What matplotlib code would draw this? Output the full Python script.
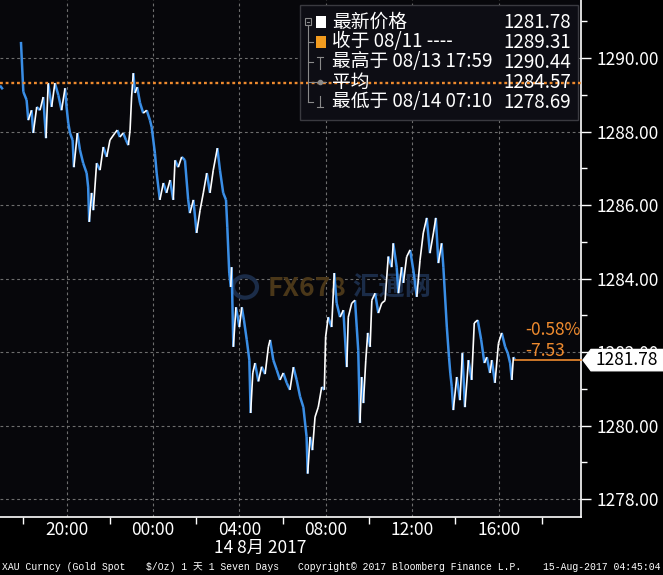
import numpy as np
import matplotlib
matplotlib.use("Agg")
import matplotlib.pyplot as plt
from matplotlib.collections import LineCollection
from matplotlib.patches import Rectangle, Polygon

plt.rcParams['font.family'] = ['Noto Sans CJK SC', 'DejaVu Sans']

# hours relative to 14-Aug-2017 00:00, gold spot price (nan = trading gap)
hours = [-7.08, -6.95, np.nan,
         -6.11, -6.00, -5.85, -5.77, -5.62, -5.54, -5.38, -5.23, -5.08, -4.95,
         -4.85, -4.69, -4.54, -4.38, -4.23, -4.07, -4.00, -3.92, -3.84, -3.72,
         -3.66, -3.50, -3.38, -3.23, -3.07, -3.00, -2.95, -2.84, -2.76, -2.61,
         -2.45, -2.30, -2.14, -1.99, -1.76, -1.65, -1.53, -1.38, -1.25, -1.14,
         -1.06, -0.99, -0.91, -0.83, -0.73, -0.60, -0.45, -0.29, -0.14, -0.06,
         0.09, 0.17, 0.32, 0.48, 0.63, 0.79, 0.94, 1.02, 1.17, 1.33,
         1.48, 1.63, 1.71, 1.87, 2.02, 2.18, 2.33, 2.49, 2.64, 2.79,
         2.98, 3.10, 3.25, 3.38, 3.44, 3.53, 3.60, 3.64, 3.72, 3.84,
         4.00, 4.11, 4.21, 4.34, 4.46, 4.52, 4.62, 4.72, 4.88, 5.03,
         5.19, 5.34, 5.42, 5.57, 5.73, 5.88, 6.03, 6.19, 6.34, 6.50,
         6.65, 6.81, 6.96, 7.11, 7.16, 7.27, 7.38, 7.50, 7.65, 7.81,
         7.93, 7.99, 8.11, 8.27, 8.39, 8.50, 8.66, 8.81, 8.97, 9.04,
         9.20, 9.35, 9.43, 9.50, 9.58, 9.66, 9.74, 9.85, 9.94, 10.05,
         10.13, 10.28, 10.43, 10.59, 10.74, 10.89, 11.05, 11.12, 11.28, 11.36,
         11.51, 11.59, 11.74, 11.90, 12.05, 12.21, 12.36, 12.51, 12.67, 12.82,
         12.98, 13.09, 13.21, 13.36, 13.44, 13.60, 13.70, 13.76, 13.83, 13.90,
         14.06, 14.21, 14.32, 14.44, 14.60, 14.75, 14.87, 15.03, 15.19, 15.34,
         15.45, 15.60, 15.68, 15.83, 15.99, 16.14, 16.30, 16.42, 16.53, 16.61,
         16.68, 16.76]
price = [1289.25, 1289.15, np.nan,
         1290.44, 1289.08, 1288.86, 1288.31, 1288.58, 1287.96, 1288.67, 1288.58, 1288.94, 1287.82,
         1289.32, 1288.67, 1289.32, 1288.99, 1288.58, 1289.18, 1288.67, 1288.23, 1287.96, 1287.77,
         1287.03, 1287.96, 1287.50, 1287.14, 1286.87, 1286.49, 1285.54, 1286.33, 1285.86, 1287.14,
         1286.95, 1287.58, 1287.31, 1287.77, 1287.96, 1288.04, 1287.85, 1287.96, 1287.77, 1287.63,
         1288.04, 1288.94, 1289.59, 1289.05, 1289.21, 1288.78, 1288.50, 1288.58, 1288.31, 1288.12,
         1287.41, 1286.87, 1286.14, 1286.60, 1286.33, 1286.68, 1286.14, 1287.22, 1287.03, 1287.31,
         1287.22, 1286.14, 1285.78, 1286.14, 1285.24, 1285.86, 1286.33, 1286.87, 1286.33, 1286.95,
         1287.55, 1286.95, 1286.33, 1286.14, 1285.40, 1284.15, 1283.77, 1284.31, 1282.14, 1283.22,
         1282.68, 1283.22, 1282.87, 1282.33, 1281.78, 1280.34, 1281.43, 1281.70, 1281.20, 1281.60,
         1281.40, 1282.14, 1282.33, 1281.78, 1281.51, 1281.24, 1281.43, 1281.16, 1280.97, 1281.59,
         1281.24, 1280.78, 1280.50, 1279.69, 1278.69, 1279.69, 1279.33, 1280.23, 1280.50, 1281.05,
         1280.97, 1282.41, 1282.95, 1282.68, 1284.15, 1283.33, 1282.95, 1283.14, 1281.59, 1282.95,
         1283.33, 1283.41, 1282.68, 1282.05, 1280.07, 1281.32, 1280.61, 1281.78, 1282.52, 1282.14,
         1283.41, 1283.60, 1283.06, 1283.33, 1283.40, 1284.60, 1284.31, 1284.96, 1284.31, 1283.60,
         1284.31, 1283.88, 1284.59, 1284.78, 1284.23, 1283.50, 1284.50, 1285.24, 1285.65, 1284.69,
         1285.24, 1285.65, 1284.42, 1284.96, 1284.31, 1282.68, 1281.86, 1281.43, 1281.05, 1280.42,
         1281.32, 1280.69, 1281.97, 1280.50, 1281.78, 1281.24, 1282.79, 1282.87, 1282.33, 1281.70,
         1281.86, 1281.43, 1281.78, 1281.16, 1282.24, 1282.52, 1282.14, 1281.97, 1281.70, 1281.24,
         1281.86, 1281.78]

last_price = 1281.78
prev_close = 1289.31
change = -7.53
change_pct = -0.58

legend_labels = ["最新价格", "收于 08/11 ----", "最高于 08/13 17:59", "平均", "最低于 08/14 07:10"]
legend_values = ["1281.78", "1289.31", "1290.44", "1284.57", "1278.69"]

xtick_hours = [-4, 0, 4, 8, 12, 16]
xtick_labels = ["20:00", "00:00", "04:00", "08:00", "12:00", "16:00"]
xminor_hours = [-6, -2, 2, 6, 10, 14, 18]
ytick_vals = [1278, 1280, 1282, 1284, 1286, 1288, 1290]

W, H = 663, 575
AX_W, AX_H = 581, 517
ORANGE = '#ee8a2e'

fig = plt.figure(figsize=(W / 100, H / 100), dpi=100, facecolor='black')
ax = fig.add_axes([0, 1 - AX_H / H, AX_W / W, AX_H / H])
ax.set_facecolor('#07070b')


def axx(px):
    return px / AX_W


def axy(py):
    return 1 - py / AX_H


# price line: rising segments white, falling segments blue
t = np.array(hours, dtype=float)
p = np.array(price, dtype=float)
pts = np.column_stack([t, p])
segs = np.stack([pts[:-1], pts[1:]], axis=1)
ok = ~np.isnan(segs).any(axis=(1, 2))
up = np.diff(p) >= 0
down_segs = segs[ok & ~up]
up_segs = segs[ok & up]
ax.add_collection(LineCollection(down_segs, colors='#3a8ee6', linewidths=1.8, zorder=4))
ax.add_collection(LineCollection(up_segs, colors='white', linewidths=1.2, zorder=5))

ax.set_xlim(-7.08, 19.81)
ax.set_ylim(1277.51, 1291.58)

# axes styling
for s in ['left', 'top']:
    ax.spines[s].set_visible(False)
for s in ['right', 'bottom']:
    ax.spines[s].set_color('white')
    ax.spines[s].set_linewidth(1.2)

ax.yaxis.tick_right()
ax.set_yticks(ytick_vals)
ax.set_yticklabels([f"{v:.2f}" for v in ytick_vals])
ax.set_yticks([v + 1 for v in ytick_vals[:-1]] + [1291], minor=True)
ax.set_xticks(xtick_hours)
ax.set_xticklabels(xtick_labels)
ax.set_xticks(xminor_hours, minor=True)
ax.tick_params(axis='y', which='major', colors='white', length=7, width=1, labelsize=12.5, pad=4)
ax.tick_params(axis='y', which='minor', colors='white', length=4, width=1)
ax.tick_params(axis='x', which='major', colors='white', length=0, labelsize=12.5, pad=3)
ax.tick_params(axis='x', which='minor', colors='white', length=5, width=1)
ax.grid(True, which='major', color='#6e6e6e', ls=(0, (2.5, 2.5)), lw=0.8, zorder=1)

# previous close (dotted) and last price line
ax.axhline(prev_close, color=ORANGE, ls=(0, (1.2, 1.2)), lw=1.7, zorder=7)
ax.plot([t[-1], 19.81], [last_price, last_price], color=ORANGE, lw=1.2, zorder=6, clip_on=False)
ax.text(17.22, last_price + 0.82, f"{change_pct:.2f}%", color=ORANGE, fontsize=12.5,
        ha='left', va='center', zorder=8)
ax.text(17.22, last_price + 0.25, f"{change:.2f}", color=ORANGE, fontsize=12.5,
        ha='left', va='center', zorder=8)

# last price tag on right axis
ytr = ax.get_yaxis_transform()
hh = 0.29
tag = Polygon([[axx(583), last_price], [axx(591), last_price + hh], [axx(663), last_price + hh],
               [axx(663), last_price - hh], [axx(591), last_price - hh]],
              closed=True, facecolor='white', edgecolor='white', transform=ytr,
              clip_on=False, zorder=10)
ax.add_patch(tag)
ax.text(axx(627), last_price, f"{last_price:.2f}", color='black', fontsize=12.5,
        ha='center', va='center', transform=ytr, clip_on=False, zorder=11)

# watermark
ax.text(axx(268), axy(288), "FX678", color='#4a3719', fontsize=19, fontweight='bold',
        ha='left', va='center', transform=ax.transAxes, zorder=2)
ax.text(axx(352), axy(288), "汇通网", color='#1b2c48', fontsize=19, fontweight='bold',
        ha='left', va='center', transform=ax.transAxes, zorder=2)
ax.add_patch(plt.Circle((axx(245), axy(287)), 12 / AX_W, transform=ax.transAxes,
                        facecolor='none', edgecolor='#1b2c48', lw=3, zorder=2))

# legend box
ta = ax.transAxes
ax.add_patch(Rectangle((axx(300), axy(120)), axx(578) - axx(300), axy(5) - axy(120),
                       facecolor='#0d0d14', edgecolor='#3a3a40', lw=1, transform=ta, zorder=6))
grey = '#8a8a8a'
row_y = [22, 42, 62, 82, 102]
# tree lines
ax.add_patch(Rectangle((axx(305), axy(25)), axx(311) - axx(305), axy(18) - axy(25),
                       facecolor='none', edgecolor=grey, lw=0.8, transform=ta, zorder=7))
ax.plot([axx(306.5), axx(309.5)], [axy(21.5), axy(21.5)], color=grey, lw=0.8, transform=ta, zorder=7)
ax.plot([axx(308), axx(308)], [axy(25), axy(102)], color=grey, lw=0.8, transform=ta, zorder=7)
for ry in row_y[1:]:
    ax.plot([axx(308), axx(313)], [axy(ry), axy(ry)], color=grey, lw=0.8, transform=ta, zorder=7)
ax.plot([axx(320), axx(320)], [axy(57), axy(69)], color=grey, lw=0.8, transform=ta, zorder=7)
ax.plot([axx(317), axx(323)], [axy(57), axy(57)], color=grey, lw=0.8, transform=ta, zorder=7)
ax.plot([axx(313), axx(326)], [axy(82), axy(82)], color=grey, lw=0.8, transform=ta, zorder=7)
ax.plot([axx(320)], [axy(82)], marker='o', ms=3, color=grey, transform=ta, zorder=7)
ax.plot([axx(320), axx(320)], [axy(96), axy(107)], color=grey, lw=0.8, transform=ta, zorder=7)
ax.plot([axx(317), axx(323)], [axy(107), axy(107)], color=grey, lw=0.8, transform=ta, zorder=7)
# colour squares
for ry, c in zip(row_y[:2], ['white', '#f29b1f']):
    ax.add_patch(Rectangle((axx(316), axy(ry + 5.5)), axx(326) - axx(316), axy(ry - 5.5) - axy(ry + 5.5),
                           facecolor=c, edgecolor='none', transform=ta, zorder=8))
for ry, lab, val in zip(row_y, legend_labels, legend_values):
    ax.text(axx(332), axy(ry), lab, color='white', fontsize=13.5, ha='left', va='center',
            transform=ta, zorder=9)
    ax.text(axx(571), axy(ry), val, color='white', fontsize=13.5, ha='right', va='center',
            transform=ta, zorder=9)

# date label and footer
fig.text(260 / W, 1 - 548 / H, "14 8月 2017", color='white', fontsize=12.5, ha='center', va='center')
mono = ['Liberation Mono', 'Noto Sans CJK SC']
footer = [(2, "XAU Curncy (Gold Spot"), (146, "$/Oz) 1 天 1 Seven Days"),
          (298, "Copyright© 2017 Bloomberg Finance L.P."), (543, "15-Aug-2017 04:45:04")]
for fx, txt in footer:
    fig.text(fx / W, 1 - 567 / H, txt, color='white', fontsize=7.0, family=mono,
             ha='left', va='center')

fig.savefig("out.png", dpi=100, facecolor='black')
